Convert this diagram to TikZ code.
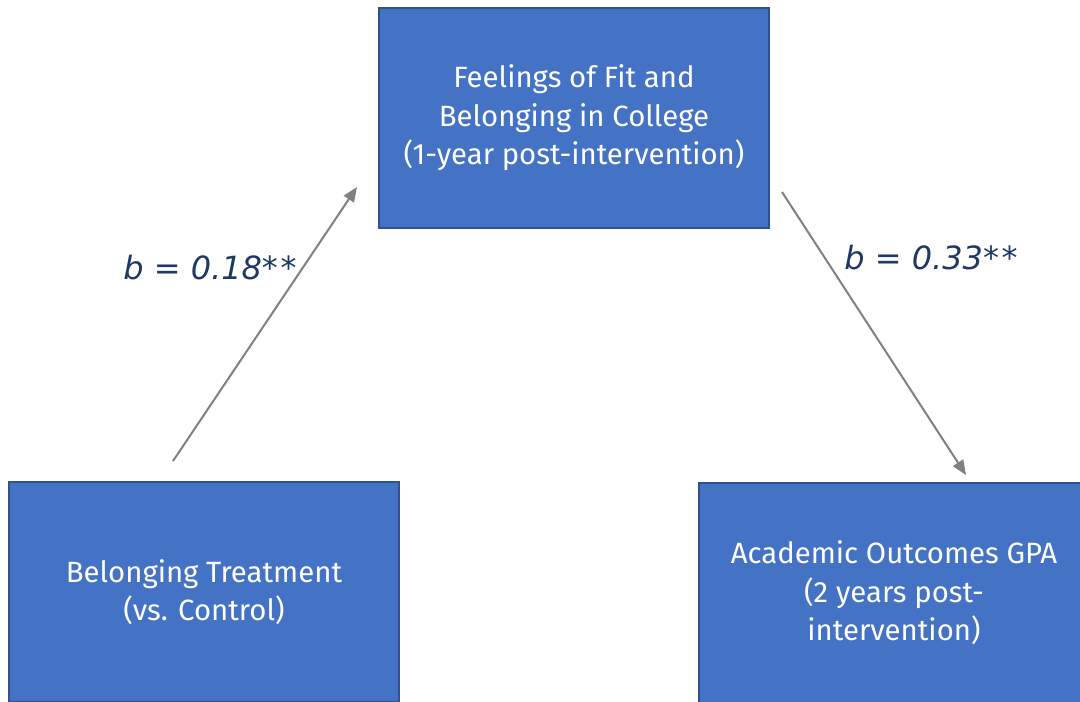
\documentclass[tikz,border=0pt]{standalone}
\usepackage{fontspec}
\setmainfont{Fira Sans}
\newfontfamily\coeffont{DejaVu Sans}
\usepackage{tikz}
\usetikzlibrary{arrows.meta}

\definecolor{boxblue}{HTML}{4472C4}
\definecolor{boxedge}{HTML}{2F528F}
\definecolor{arrowgray}{HTML}{808080}
\definecolor{coefnavy}{HTML}{1F3864}

\begin{document}
\begin{tikzpicture}[
            x=0.75pt, y=-0.75pt,
            stage/.style={rectangle, draw=boxedge, line width=1.5pt, fill=boxblue, text=white, minimum width=292.5pt, minimum height=165pt, align=center, font=\fontsize{22}{28.9}\selectfont}, % Blue variable boxes
            effect/.style={draw=arrowgray, line width=1.5pt, -{Triangle[length=11pt, width=9pt]}}, % Gray paths
            coef/.style={text=coefnavy, font=\coeffont\itshape\fontsize{24}{28}\selectfont} % Path coefficients
            ]
        \useasboundingbox (0,0) rectangle (1080,701);
        \clip (0,0) rectangle (1080,701);

                % Mediation model: treatment -> belonging -> GPA
                \node[stage] (fit) at (574,118) {Feelings of Fit and\\Belonging in College\\(1-year post-intervention)};
                \node[stage] (treat) at (204,592) {Belonging Treatment\\(vs. Control)};
                \node[stage] (gpa) at (894,593) {Academic Outcomes GPA\\(2 years post-\\intervention)};

                \coordinate (treatout) at (173,461);
                \coordinate (fitin) at (357,187);
                \coordinate (fitout) at (782,192);
                \coordinate (gpain) at (966,475);

                \draw[effect] (treatout) -- (fitin);
                \draw[effect] (fitout) -- (gpain);

                \node[coef] (coefa) at (210,268) {b = 0.18*\kern2pt*};
                \node[coef] (coefb) at (931,258) {b = 0.33*\kern2pt*};

            \end{tikzpicture}
\end{document}
